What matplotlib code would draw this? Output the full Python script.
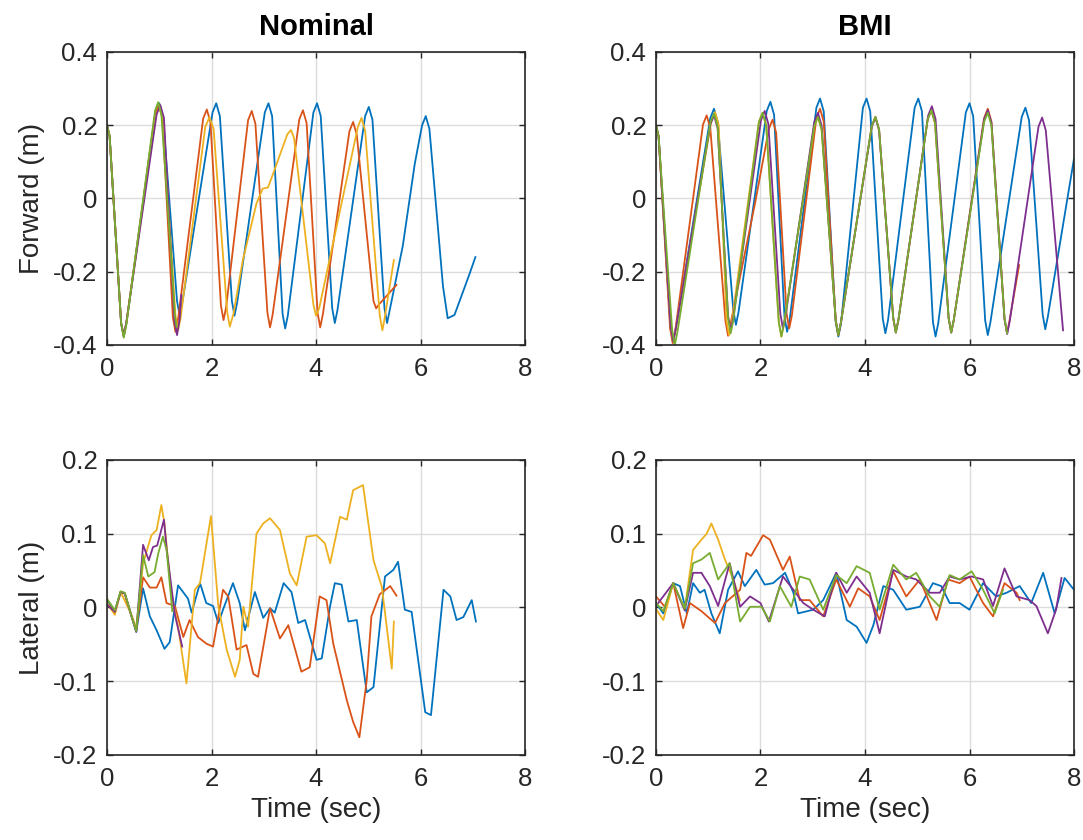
import numpy as np
import matplotlib
matplotlib.use("Agg")
import matplotlib.pyplot as plt

plt.rcParams['font.family'] = ['Liberation Sans', 'DejaVu Sans']

# matlab default colour order
c_blue, c_orange, c_yellow, c_purple, c_green = '#0072BD', '#D95319', '#EDB120', '#7E2F8E', '#77AC30'

# ---- Nominal, forward (m): (time, value) ----
nf_blue = [(0, 0.2), (0.05, 0.17), (0.27, -0.34), (0.32, -0.377), (0.37, -0.34), (0.93, 0.235), (1.0, 0.26), (1.07, 0.225),
           (1.34, -0.28), (1.39, -0.32), (1.44, -0.285), (2.02, 0.235), (2.09, 0.26), (2.16, 0.225), (2.39, -0.28),
           (2.44, -0.32), (2.49, -0.285), (3.02, 0.235), (3.09, 0.26), (3.16, 0.225), (3.36, -0.315), (3.41, -0.355),
           (3.46, -0.32), (3.95, 0.235), (4.02, 0.26), (4.09, 0.225), (4.31, -0.3), (4.36, -0.34), (4.41, -0.305),
           (4.94, 0.225), (5.01, 0.25), (5.08, 0.215), (5.31, -0.3), (5.36, -0.34), (5.41, -0.305), (5.66, -0.13),
           (5.89, 0.095), (6.03, 0.2), (6.1, 0.225), (6.17, 0.19), (6.43, -0.24), (6.52, -0.327), (6.65, -0.318),
           (6.94, -0.205), (7.05, -0.16)]
nf_orange = [(0, 0.2), (0.05, 0.17), (0.27, -0.34), (0.32, -0.375), (0.37, -0.34), (0.92, 0.23), (0.99, 0.255), (1.06, 0.22),
             (1.26, -0.324), (1.31, -0.364), (1.36, -0.33), (1.84, 0.218), (1.91, 0.243), (1.98, 0.208), (2.18, -0.292),
             (2.23, -0.332), (2.28, -0.297), (2.7, 0.214), (2.77, 0.239), (2.84, 0.204), (3.07, -0.312), (3.12, -0.352),
             (3.17, -0.317), (3.68, 0.216), (3.75, 0.241), (3.82, 0.206), (4.03, -0.312), (4.08, -0.352), (4.13, -0.317),
             (4.64, 0.184), (4.71, 0.209), (4.78, 0.174), (5.1, -0.28), (5.15, -0.30), (5.2, -0.29), (5.54, -0.236)]
nf_yellow = [(0, 0.2), (0.05, 0.17), (0.27, -0.34), (0.32, -0.375), (0.37, -0.34), (0.93, 0.225), (1.0, 0.25), (1.07, 0.215),
             (1.31, -0.32), (1.36, -0.36), (1.41, -0.325), (1.88, 0.195), (1.96, 0.222), (2.04, 0.19), (2.3, -0.31),
             (2.35, -0.35), (2.42, -0.315), (2.6, -0.168), (2.86, -0.014), (2.98, 0.027), (3.08, 0.03), (3.18, 0.068),
             (3.45, 0.175), (3.52, 0.187), (3.58, 0.165), (3.95, -0.29), (4.0, -0.32), (4.06, -0.3), (4.8, 0.195),
             (4.87, 0.22), (4.94, 0.185), (5.22, -0.32), (5.27, -0.36), (5.31, -0.33), (5.49, -0.168)]
nf_purple = [(0, 0.2), (0.05, 0.17), (0.27, -0.34), (0.32, -0.375), (0.37, -0.34), (0.95, 0.23), (1.02, 0.255), (1.09, 0.22),
             (1.29, -0.333), (1.34, -0.373), (1.39, -0.33), (1.42, -0.264)]
nf_green = [(0, 0.2), (0.05, 0.17), (0.27, -0.34), (0.32, -0.38), (0.37, -0.345), (0.92, 0.24), (0.98, 0.263), (1.04, 0.23),
            (1.2, -0.1), (1.3, -0.32), (1.33, -0.35)]

# ---- BMI, forward (m) ----
bf_blue = [(0, 0.2), (0.05, 0.17), (0.28, -0.35), (0.33, -0.39), (0.38, -0.355), (1.04, 0.22), (1.11, 0.245), (1.18, 0.21),
           (1.48, -0.305), (1.53, -0.345), (1.58, -0.31), (2.12, 0.239), (2.19, 0.264), (2.26, 0.229), (2.46, -0.324),
           (2.51, -0.364), (2.56, -0.329), (3.07, 0.248), (3.14, 0.273), (3.21, 0.238), (3.44, -0.337), (3.49, -0.377),
           (3.54, -0.342), (3.96, 0.248), (4.03, 0.273), (4.1, 0.238), (4.34, -0.328), (4.39, -0.368), (4.44, -0.333),
           (4.95, 0.248), (5.02, 0.273), (5.09, 0.238), (5.3, -0.337), (5.35, -0.377), (5.4, -0.342), (5.93, 0.235),
           (6.0, 0.26), (6.07, 0.225), (6.3, -0.333), (6.35, -0.373), (6.4, -0.338), (7.0, 0.223), (7.07, 0.248),
           (7.14, 0.213), (7.4, -0.317), (7.45, -0.357), (7.5, -0.322), (8.0, 0.109)]
bf_orange = [(0, 0.2), (0.05, 0.17), (0.27, -0.355), (0.32, -0.395), (0.37, -0.36), (0.9, 0.202), (0.97, 0.227), (1.04, 0.192),
             (1.33, -0.335), (1.38, -0.375), (1.43, -0.34), (1.9, -0.01), (2.16, 0.19), (2.23, 0.215), (2.3, 0.18),
             (2.5, -0.315), (2.55, -0.355), (2.6, -0.32), (3.07, 0.22), (3.14, 0.245), (3.21, 0.21), (3.44, -0.333),
             (3.49, -0.373), (3.54, -0.338), (4.13, 0.198), (4.2, 0.223), (4.27, 0.188), (4.54, -0.326), (4.59, -0.366),
             (4.64, -0.331), (5.2, 0.216), (5.27, 0.241), (5.34, 0.206), (5.6, -0.326), (5.65, -0.366), (5.7, -0.331),
             (6.28, 0.22), (6.35, 0.245), (6.42, 0.21), (6.67, -0.328), (6.72, -0.368), (6.77, -0.33), (6.95, -0.182)]
bf_yellow = [(0, 0.2), (0.05, 0.17), (0.28, -0.35), (0.33, -0.39), (0.38, -0.355), (1.06, 0.211), (1.13, 0.236), (1.2, 0.201),
             (1.35, -0.333), (1.4, -0.373), (1.45, -0.338), (1.97, 0.209), (2.04, 0.234), (2.11, 0.199), (2.35, -0.337),
             (2.4, -0.377), (2.45, -0.342), (3.03, 0.198), (3.1, 0.223), (3.17, 0.188), (3.44, -0.333), (3.49, -0.373)]
bf_purple = [(0, 0.2), (0.05, 0.17), (0.28, -0.35), (0.33, -0.39), (0.38, -0.355), (1.04, 0.202), (1.11, 0.227), (1.18, 0.192),
             (1.38, -0.32), (1.43, -0.36), (1.48, -0.325), (2.01, 0.214), (2.08, 0.239), (2.15, 0.204), (2.38, -0.315),
             (2.43, -0.355), (2.48, -0.32), (3.03, 0.209), (3.1, 0.234), (3.17, 0.199), (3.44, -0.333), (3.49, -0.373),
             (3.54, -0.338), (4.13, 0.196), (4.2, 0.221), (4.27, 0.186), (4.54, -0.326), (4.59, -0.366), (4.64, -0.331),
             (5.21, 0.227), (5.28, 0.252), (5.35, 0.217), (5.6, -0.326), (5.65, -0.366), (5.7, -0.331), (6.28, 0.216),
             (6.35, 0.241), (6.42, 0.206), (6.67, -0.33), (6.72, -0.37), (6.77, -0.335), (7.32, 0.196), (7.39, 0.221),
             (7.46, 0.186), (7.79, -0.36)]
bf_green = [(0, 0.2), (0.05, 0.17), (0.31, -0.36), (0.36, -0.4), (0.41, -0.365), (1.04, 0.207), (1.11, 0.232), (1.18, 0.197),
            (1.38, -0.328), (1.43, -0.368), (1.48, -0.333), (1.97, 0.209), (2.04, 0.234), (2.11, 0.199), (2.35, -0.337),
            (2.4, -0.377), (2.45, -0.342), (3.03, 0.198), (3.1, 0.223), (3.17, 0.188), (3.44, -0.333), (3.49, -0.373),
            (3.54, -0.338), (4.13, 0.198), (4.2, 0.223), (4.27, 0.188), (4.54, -0.326), (4.59, -0.366), (4.64, -0.331),
            (5.2, 0.216), (5.27, 0.241), (5.34, 0.206), (5.6, -0.326), (5.65, -0.366), (5.7, -0.331), (6.28, 0.209),
            (6.35, 0.234), (6.42, 0.199), (6.67, -0.328), (6.72, -0.368)]

# ---- Nominal, lateral (m) ----
nl_blue_t = [0, 0.15, 0.26, 0.34, 0.47, 0.56, 0.69, 0.82, 0.95, 1.1, 1.2, 1.36, 1.55, 1.62, 1.78, 1.9, 2.03, 2.13, 2.22, 2.41,
             2.54, 2.64, 2.83, 2.99, 3.12, 3.21, 3.38, 3.53, 3.66, 3.79, 4.01, 4.11, 4.27, 4.36, 4.49, 4.62, 4.78, 4.97,
             5.1, 5.22, 5.32, 5.48, 5.57, 5.7, 5.83, 6.09, 6.2, 6.44, 6.57, 6.69, 6.82, 6.98, 7.06]
nl_blue_y = [0.01, -0.005, 0.021, 0.019, -0.012, -0.033, 0.026, -0.012, -0.031, -0.056, -0.047, 0.03, 0.012, -0.007, 0.033,
             0.006, 0.002, -0.021, -0.003, 0.033, 0.006, -0.031, 0.021, -0.014, -0.001, -0.007, 0.033, 0.021, -0.021, -0.017,
             -0.071, -0.069, 0.002, 0.033, 0.031, -0.019, -0.017, -0.115, -0.108, -0.026, 0.042, 0.051, 0.062, -0.003,
             -0.006, -0.142, -0.146, 0.024, 0.015, -0.017, -0.013, 0.01, -0.019]
nl_orange_t = [0, 0.15, 0.26, 0.34, 0.47, 0.56, 0.69, 0.82, 0.95, 1.04, 1.14, 1.3, 1.46, 1.58, 1.74, 1.9, 2.03, 2.22, 2.32,
               2.48, 2.67, 2.8, 2.89, 3.12, 3.31, 3.47, 3.72, 3.88, 4.07, 4.2, 4.33, 4.59, 4.71, 4.83, 4.97, 5.06, 5.22,
               5.42, 5.54]
nl_orange_y = [0.006, -0.007, 0.021, 0.019, -0.012, -0.031, 0.041, 0.027, 0.027, 0.041, 0.006, 0.002, -0.04, -0.017, -0.04,
               -0.049, -0.053, 0.024, 0.015, -0.057, -0.051, -0.09, -0.094, -0.001, -0.042, -0.024, -0.087, -0.081, 0.015,
               0.01, -0.049, -0.126, -0.155, -0.176, -0.099, -0.012, 0.018, 0.029, 0.016]
nl_yellow_t = [0, 0.15, 0.26, 0.47, 0.56, 0.69, 0.85, 0.95, 1.04, 1.1, 1.23, 1.36, 1.52, 1.68, 1.78, 1.99, 2.13, 2.29, 2.45,
               2.54, 2.61, 2.7, 2.86, 2.99, 3.12, 3.31, 3.5, 3.63, 3.82, 4.01, 4.17, 4.27, 4.46, 4.59, 4.71, 4.9, 5.1,
               5.26, 5.45, 5.49]
nl_yellow_y = [0.006, -0.01, 0.021, -0.01, -0.028, 0.06, 0.098, 0.105, 0.139, 0.114, 0.019, -0.026, -0.103, 0.024, 0.033,
               0.124, 0.002, -0.057, -0.094, -0.071, 0.001, -0.026, 0.1, 0.114, 0.121, 0.105, 0.046, 0.03, 0.096, 0.098,
               0.087, 0.06, 0.123, 0.119, 0.159, 0.166, 0.064, 0.028, -0.083, -0.019]
nl_purple_t = [0, 0.15, 0.26, 0.34, 0.47, 0.56, 0.69, 0.8, 0.88, 0.96, 1.09, 1.14, 1.3, 1.44]
nl_purple_y = [0.004, -0.006, 0.021, 0.019, -0.012, -0.033, 0.085, 0.064, 0.082, 0.084, 0.119, 0.08, -0.01, -0.053]
nl_green_t = [0, 0.15, 0.26, 0.34, 0.47, 0.56, 0.69, 0.79, 0.91, 0.98, 1.07, 1.14, 1.25]
nl_green_y = [0.012, -0.004, 0.022, 0.02, -0.012, -0.032, 0.071, 0.042, 0.048, 0.073, 0.096, 0.078, -0.005]

# ---- BMI, lateral (m) ----
bl_blue_t = [0, 0.14, 0.33, 0.46, 0.59, 0.71, 0.84, 0.93, 1.06, 1.22, 1.38, 1.57, 1.7, 1.92, 2.08, 2.24, 2.47, 2.63, 2.72,
             3.01, 3.2, 3.45, 3.65, 3.84, 4.03, 4.16, 4.35, 4.54, 4.79, 5.05, 5.3, 5.46, 5.62, 5.81, 6.0, 6.26, 6.51, 6.71,
             6.96, 7.18, 7.41, 7.63, 7.82, 8.0]
bl_blue_y = [0.006, -0.008, 0.033, 0.029, -0.008, 0.033, 0.02, 0.024, -0.008, -0.035, 0.024, 0.049, 0.029, 0.051, 0.031,
             0.033, 0.047, 0.02, -0.008, -0.003, 0.01, 0.047, -0.017, -0.026, -0.048, -0.024, 0.029, 0.024, -0.003, 0.001,
             0.033, 0.029, 0.006, 0.006, -0.003, 0.033, 0.015, 0.02, 0.029, 0.006, 0.047, -0.008, 0.04, 0.024]
bl_orange_t = [0, 0.17, 0.33, 0.52, 0.65, 0.87, 1.13, 1.32, 1.61, 1.73, 1.82, 2.05, 2.18, 2.43, 2.56, 2.75, 2.94, 3.2, 3.45,
               3.71, 3.87, 4.09, 4.28, 4.54, 4.79, 5.05, 5.37, 5.59, 5.81, 6.0, 6.26, 6.45, 6.67, 6.9, 6.96]
bl_orange_y = [0.015, 0.001, 0.033, -0.028, 0.006, -0.005, -0.021, 0.006, 0.024, 0.074, 0.07, 0.098, 0.092, 0.051, 0.069,
               0.01, 0.01, -0.012, 0.038, 0.001, 0.026, 0.015, -0.017, 0.049, 0.015, 0.038, -0.017, 0.038, 0.033, 0.042,
               0.006, -0.012, 0.033, 0.02, 0.01]
bl_yellow_t = [0, 0.14, 0.33, 0.55, 0.71, 0.87, 0.97, 1.06, 1.19, 1.32, 1.48, 1.61]
bl_yellow_y = [-0.002, -0.017, 0.033, -0.002, 0.078, 0.092, 0.1, 0.114, 0.092, 0.065, 0.038, 0.01]
bl_purple_t = [0, 0.33, 0.55, 0.71, 0.87, 1.03, 1.19, 1.41, 1.61, 1.8, 2.0, 2.16, 2.43, 2.63, 2.82, 3.01, 3.23, 3.45, 3.65,
               3.84, 4.09, 4.28, 4.54, 4.79, 4.98, 5.24, 5.43, 5.62, 5.81, 6.04, 6.26, 6.45, 6.67, 6.9, 7.15, 7.28, 7.5,
               7.66, 7.76]
bl_purple_y = [0.002, 0.033, -0.004, 0.047, 0.047, 0.029, 0.002, 0.06, 0.001, 0.015, 0.006, -0.019, 0.042, 0.024, 0.006,
               -0.003, -0.012, 0.047, 0.02, 0.042, 0.02, -0.035, 0.051, 0.042, 0.038, 0.02, 0.02, 0.042, 0.038, 0.042,
               0.038, 0.002, 0.053, 0.015, 0.01, 0.002, -0.035, -0.002, 0.04]
bl_green_t = [0, 0.14, 0.33, 0.55, 0.71, 0.87, 1.03, 1.19, 1.41, 1.61, 1.8, 2.02, 2.18, 2.37, 2.59, 2.75, 2.94, 3.2, 3.45,
              3.65, 3.84, 4.09, 4.28, 4.54, 4.79, 4.98, 5.24, 5.43, 5.62, 5.81, 6.04, 6.26, 6.48, 6.64]
bl_green_y = [0.006, -0.005, 0.033, -0.002, 0.06, 0.065, 0.074, 0.038, 0.06, -0.019, 0.001, 0.001, -0.019, 0.029, 0.001,
              0.042, 0.038, -0.003, 0.044, 0.033, 0.056, 0.047, -0.003, 0.058, 0.038, 0.047, 0.015, 0.001, 0.044, 0.038,
              0.049, 0.024, -0.008, 0.024]


def unzip(pairs):
    t, y = zip(*pairs)
    return list(t), list(y)


colors = [c_blue, c_orange, c_yellow, c_purple, c_green]
nf = [unzip(s) for s in (nf_blue, nf_orange, nf_yellow, nf_purple, nf_green)]
bf = [unzip(s) for s in (bf_blue, bf_orange, bf_yellow, bf_purple, bf_green)]
nl = [(nl_blue_t, nl_blue_y), (nl_orange_t, nl_orange_y), (nl_yellow_t, nl_yellow_y),
      (nl_purple_t, nl_purple_y), (nl_green_t, nl_green_y)]
bl = [(bl_blue_t, bl_blue_y), (bl_orange_t, bl_orange_y), (bl_yellow_t, bl_yellow_y),
      (bl_purple_t, bl_purple_y), (bl_green_t, bl_green_y)]

fwd_ticks = [-0.4, -0.2, 0, 0.2, 0.4]
lat_ticks = [-0.2, -0.1, 0, 0.1, 0.2]
panels = [
    ([0.0988, 0.5893, 0.386, 0.3488], nf, fwd_ticks, 'Nominal', 'Forward (m)', None),
    ([0.6057, 0.5893, 0.386, 0.3488], bf, fwd_ticks, 'BMI', None, None),
    ([0.0988, 0.1012, 0.386, 0.3512], nl, lat_ticks, None, 'Lateral (m)', 'Time (sec)'),
    ([0.6057, 0.1012, 0.386, 0.3512], bl, lat_ticks, None, None, 'Time (sec)'),
]

fig = plt.figure(figsize=(10.83, 8.4), dpi=100)
for rect, series, yticks, title, ylabel, xlabel in panels:
    ax = fig.add_axes(rect)
    for (t, y), col in zip(series, colors):
        ax.plot(t, y, color=col, lw=1.3)
    ax.set_xlim(0, 8)
    ax.set_ylim(yticks[0], yticks[-1])
    ax.set_xticks([0, 2, 4, 6, 8])
    ax.set_yticks(yticks)
    ax.set_yticklabels(['%g' % v for v in yticks])
    ax.grid(True, color='#dcdcdc', lw=1.0)
    ax.set_axisbelow(True)
    ax.tick_params(direction='in', length=4, width=1, colors='#262626', labelsize=18.5,
                   top=True, right=True)
    ax.tick_params(axis='x', pad=9)
    ax.tick_params(axis='y', pad=7)
    for s in ax.spines.values():
        s.set_color('#262626')
        s.set_linewidth(1.2)
    if title:
        ax.set_title(title, fontsize=21, fontweight='bold', pad=12)
    if ylabel:
        ax.set_ylabel(ylabel, fontsize=20, color='#262626', labelpad=6)
    if xlabel:
        ax.set_xlabel(xlabel, fontsize=20, color='#262626', labelpad=4)

fig.savefig('out.png', dpi=100)
